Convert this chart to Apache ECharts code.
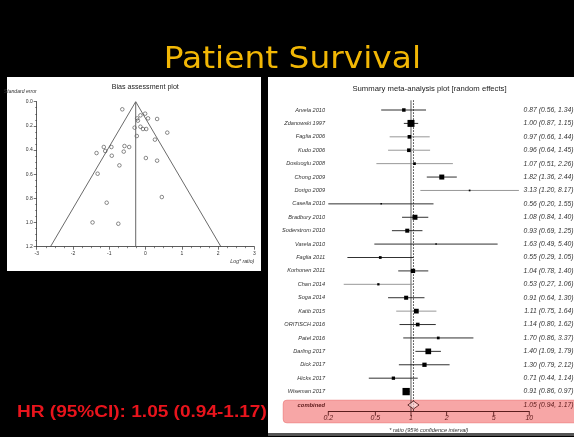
<!DOCTYPE html>
<html><head><meta charset="utf-8">
<script src="https://cdn.jsdelivr.net/npm/echarts@6/dist/echarts.min.js"></script>
<style>html,body{margin:0;padding:0;background:#000;}#c{width:574px;height:437px;}</style>
</head><body><div id="c"></div>
<script>
// ---- Forest plot data ----
const studies = ['Arvela 2010','Zdanowski 1997','Faglia 2006','Kudo 2006','Dosluoglu 2008','Chong 2009','Dorigo 2009','Casella 2010','Bradbury 2010','Soderstrom 2010','Varela 2010','Faglia 2011','Korhonen 2011','Chan 2014','Soga 2014','Katib 2015','ORITISCH 2016','Patel 2016','Darling 2017','Dick 2017','Hicks 2017','Wiseman 2017'];
const hr     = [0.87,1.00,0.97,0.96,1.07,1.82,3.13,0.56,1.08,0.93,1.63,0.55,1.04,0.53,0.91,1.11,1.14,1.70,1.40,1.30,0.71,0.91];
const ciLow  = [0.56,0.87,0.66,0.64,0.51,1.36,1.20,0.20,0.84,0.69,0.49,0.29,0.78,0.27,0.64,0.75,0.80,0.86,1.09,0.79,0.44,0.86];
const ciHigh = [1.34,1.15,1.44,1.45,2.26,2.44,8.17,1.55,1.40,1.25,5.40,1.05,1.40,1.06,1.30,1.64,1.62,3.37,1.79,2.12,1.14,0.97];
const weights = [1.8,7.25,2.0,2.0,1.1,3.7,0.43,0.33,3.7,2.4,0.33,1.1,2.7,0.78,2.4,3.3,2.0,1.1,4.8,2.7,1.6,7.9];
const pooled = [1.05,0.94,1.17];
const pooledLabel = 'combined';
const nullRatio = 1;
const ratioTicks = [0.2,0.5,1,2,5,10];

// ---- Funnel (bias assessment) data ----
const funnelLogRatio = [-0.64,-0.01,-0.14,0.07,-0.23,-0.21,0.32,-0.30,-0.14,-0.07,0.02,0.60,-0.24,0.26,-1.15,-0.94,-0.58,-0.45,-1.11,-1.35,-0.60,-0.93,0.01,0.32,-0.72,-1.32,0.45,-1.07,-1.46,-0.75];
const funnelSE       = [0.063,0.099,0.113,0.138,0.138,0.157,0.143,0.215,0.207,0.226,0.226,0.256,0.284,0.314,0.375,0.375,0.367,0.375,0.408,0.425,0.413,0.447,0.466,0.488,0.527,0.596,0.789,0.836,0.999,1.01];
const funnelApex = -0.27;
const funnelBaseLeft = -2.62;
const funnelBaseRight = 2.08;
const funnelMaxSE = 1.2;

// ---- build ----
const FONT = 'Liberation Sans';
const ln = Math.log;
const grayRows = [2,3,4,6,13,15];
const fmt = (a,b,c) => a.toFixed(2)+' ('+b.toFixed(2)+', '+c.toFixed(2)+')';
const rows = studies.concat([pooledLabel]);
const rightLabels = hr.map((v,i)=>fmt(v,ciLow[i],ciHigh[i])).concat([fmt(pooled[0],pooled[1],pooled[2])]);
// [ln(est), row, ln(lo), ln(hi), weight]
const forestData = hr.map((v,i)=>[ln(v), i, ln(ciLow[i]), ln(ciHigh[i]), weights[i]]);
const pooledData = [[ln(pooled[0]), studies.length, ln(pooled[1]), ln(pooled[2])]];
const refData = [[ln(nullRatio), 0, 0], [ln(pooled[0]), 0, 1]];
const tickLn = ratioTicks.map(ln);
const tickData = tickLn.map(v=>[v, 0]);
const maxW = Math.max.apply(null, weights);
const funnelPts = funnelLogRatio.map((x,i)=>[x, funnelSE[i]]);

const chart = echarts.init(document.getElementById('c'), null, {renderer:'canvas'});
const axisCol = '#333';
const maroon = '#5c1a1a';
const axisRed = '#5a1d1d';

chart.setOption({
  animation: false,
  backgroundColor: '#000',
  textStyle: {fontFamily: FONT},
  graphic: [
    {type:'rect', z:-10, shape:{x:7,y:77,width:254,height:194}, style:{fill:'#fff'}},
    {type:'rect', z:-10, shape:{x:268,y:77,width:306,height:356}, style:{fill:'#fff'}},
    {type:'rect', z:-10, shape:{x:268,y:433,width:306,height:3}, style:{fill:'#555'}},
    {type:'rect', z:-9, shape:{x:283,y:400,width:300,height:23,r:4}, style:{fill:'rgba(239,77,77,0.5)', stroke:'rgba(220,60,60,0.35)', lineWidth:0.8}},
    {type:'text', z:10, x:292.4, y:60.5, scaleX:1.095, style:{text:'Patient Survival', x:0, y:0, align:'center', textAlign:'center', verticalAlign:'middle', textVerticalAlign:'middle', font:'30px "DejaVu Sans"', fill:'#f2b705'}},
    {type:'text', z:10, x:17, y:412.2, scaleX:1.19, style:{text:'HR (95%CI): 1.05 (0.94-1.17)', x:0, y:0, align:'left', textAlign:'left', verticalAlign:'middle', textVerticalAlign:'middle', font:'bold 16px "Liberation Sans"', fill:'#e8141c'}},
    {type:'text', z:10, x:145.3, y:87, style:{text:'Bias assessment plot', x:0, y:0, align:'center', textAlign:'center', verticalAlign:'middle', textVerticalAlign:'middle', font:'7.1px "Liberation Sans"', fill:'#222'}},
    {type:'text', z:10, x:429.5, y:89, style:{text:'Summary meta-analysis plot [random effects]', x:0, y:0, align:'center', textAlign:'center', verticalAlign:'middle', textVerticalAlign:'middle', font:'7.7px "Liberation Sans"', fill:'#222'}}
  ],
  grid: [
    {left:36.7, right:319.7, top:101.7, bottom:190.3, containLabel:false, outerBoundsMode:'none'},
    {left:328.3, right:44.7, top:103.3, bottom:25.3, containLabel:false, outerBoundsMode:'none'}
  ],
  xAxis: [
    {gridIndex:0, type:'value', min:-3, max:3, interval:1,
      axisLine:{onZero:false, lineStyle:{color:axisCol, width:0.8}},
      axisTick:{length:3, lineStyle:{color:axisCol, width:0.7}},
      minorTick:{show:true, splitNumber:4, length:1.5, lineStyle:{color:axisCol, width:0.6}},
      splitLine:{show:false}, minorSplitLine:{show:false},
      axisLabel:{fontSize:5, color:'#333', margin:4, fontFamily:FONT},
      name:'Log* ratio)', nameLocation:'end', nameGap:0,
      nameTextStyle:{fontSize:5.2, fontStyle:'italic', color:'#333', align:'right', verticalAlign:'top', padding:[12,0,0,0], fontFamily:FONT}
    },
    {gridIndex:1, type:'value', z:5, min:ln(ratioTicks[0]), max:ln(ratioTicks[ratioTicks.length-1]),
      axisLine:{show:true, onZero:false, lineStyle:{color:axisRed, width:1}},
      axisTick:{show:false},
      splitLine:{show:false},
      axisLabel:{customValues:tickLn, fontSize:7, fontStyle:'italic', color:maroon, margin:3, fontFamily:FONT,
        formatter:function(v){const t = ratioTicks.find(t=>Math.abs(ln(t)-v)<1e-6); return t===undefined?'':String(t);}},
      name:'* ratio (95% confidence interval)', nameLocation:'middle', nameGap:16,
      nameTextStyle:{fontSize:5.6, fontStyle:'italic', color:'#333', fontFamily:FONT}
    }
  ],
  yAxis: [
    {gridIndex:0, type:'value', min:0, max:funnelMaxSE, interval:0.2, inverse:true,
      axisLine:{show:true, onZero:false, lineStyle:{color:axisCol, width:0.8}},
      axisTick:{show:true, length:3, lineStyle:{color:axisCol, width:0.7}},
      minorTick:{show:true, splitNumber:4, length:1.5, lineStyle:{color:axisCol, width:0.6}},
      splitLine:{show:false}, minorSplitLine:{show:false},
      axisLabel:{fontSize:5, color:'#333', margin:4, fontFamily:FONT, formatter:v=>v.toFixed(1)},
      name:'Standard error', nameLocation:'start', nameGap:7.7,
      nameTextStyle:{fontSize:5.1, fontStyle:'italic', color:'#333', align:'right', fontFamily:FONT}
    },
    {gridIndex:1, type:'category', data:rows, inverse:true,
      axisLine:{show:false}, axisTick:{show:false}, splitLine:{show:false},
      axisLabel:{fontSize:5.6, fontStyle:'italic', color:'#333', margin:3.3, fontFamily:FONT,
        formatter:v=> v===pooledLabel ? '{c|'+v+'}' : v,
        rich:{c:{fontSize:5.8, fontStyle:'italic', fontWeight:'bold', color:maroon, fontFamily:FONT}}}
    },
    {gridIndex:1, type:'category', data:rightLabels, inverse:true, position:'right',
      axisLine:{show:false}, axisTick:{show:false}, splitLine:{show:false},
      axisLabel:{fontSize:6.8, fontStyle:'italic', color:'#333', align:'right', margin:44.2, fontFamily:FONT,
        formatter:(v,i)=> i===studies.length ? '{c|'+v+'}' : v,
        rich:{c:{fontSize:6.8, fontStyle:'italic', color:maroon, fontFamily:FONT}}}
    }
  ],
  series: [
    {type:'line', xAxisIndex:0, yAxisIndex:0, symbol:'none', silent:true,
      data:[[funnelBaseLeft,funnelMaxSE],[funnelApex,0],[funnelBaseRight,funnelMaxSE]],
      lineStyle:{color:'#444', width:0.8}},
    {type:'line', xAxisIndex:0, yAxisIndex:0, symbol:'none', silent:true,
      data:[[funnelApex,0],[funnelApex,funnelMaxSE]],
      lineStyle:{color:'#666', width:1}},
    {type:'scatter', xAxisIndex:0, yAxisIndex:0, data:funnelPts, symbol:'circle', symbolSize:3.6,
      itemStyle:{color:'rgba(255,255,255,0)', borderColor:'#333', borderWidth:0.7}},
    {type:'custom', xAxisIndex:1, yAxisIndex:1, data:tickData, silent:true, clip:false, z:6,
      renderItem:function(params, api){
        const x = api.coord([api.value(0), 0])[0];
        const cs = params.coordSys;
        const y0 = cs.y + cs.height;
        return {type:'line', shape:{x1:x, y1:y0, x2:x, y2:y0+4}, style:{stroke:axisRed, lineWidth:0.9}};
      }
    },
    {type:'custom', xAxisIndex:1, yAxisIndex:1, data:refData, silent:true, clip:false,
      renderItem:function(params, api){
        const x = api.coord([api.value(0), 0])[0];
        const cs = params.coordSys;
        const dotted = api.value(2) === 1;
        return {type:'line', shape:{x1:x, y1:cs.y-3, x2:x, y2:cs.y+cs.height},
          style:{stroke: dotted ? '#222' : '#333', lineWidth: dotted ? 0.9 : 0.8, lineDash: dotted ? [1.5,1.5] : null}};
      }
    },
    {type:'custom', xAxisIndex:1, yAxisIndex:1, data:forestData, clip:false,
      renderItem:function(params, api){
        const r = api.value(1);
        const y = api.coord([0, r])[1];
        const xl = api.coord([api.value(2), r])[0];
        const xh = api.coord([api.value(3), r])[0];
        const xe = api.coord([api.value(0), r])[0];
        const s = 7.3*Math.sqrt(api.value(4)/maxW);
        const col = grayRows.indexOf(params.dataIndex)>=0 ? '#8c8c8c' : '#1a1a1a';
        return {type:'group', children:[
          {type:'line', shape:{x1:xl,y1:y,x2:xh,y2:y}, style:{stroke:col, lineWidth:0.9}},
          {type:'rect', shape:{x:xe-s/2,y:y-s/2,width:s,height:s}, style:{fill:'#000'}}
        ]};
      }
    },
    {type:'custom', xAxisIndex:1, yAxisIndex:1, data:pooledData, clip:false,
      renderItem:function(params, api){
        const r = api.value(1);
        const y = api.coord([0, r])[1];
        const xl = api.coord([api.value(2), r])[0];
        const xh = api.coord([api.value(3), r])[0];
        const xe = api.coord([api.value(0), r])[0];
        const h = 4;
        return {type:'polygon', shape:{points:[[xl,y],[xe,y-h],[xh,y],[xe,y+h]]}, style:{fill:'rgba(255,235,235,0.6)', stroke:'#4a1010', lineWidth:0.8}};
      }
    }
  ]
});
</script></body></html>
